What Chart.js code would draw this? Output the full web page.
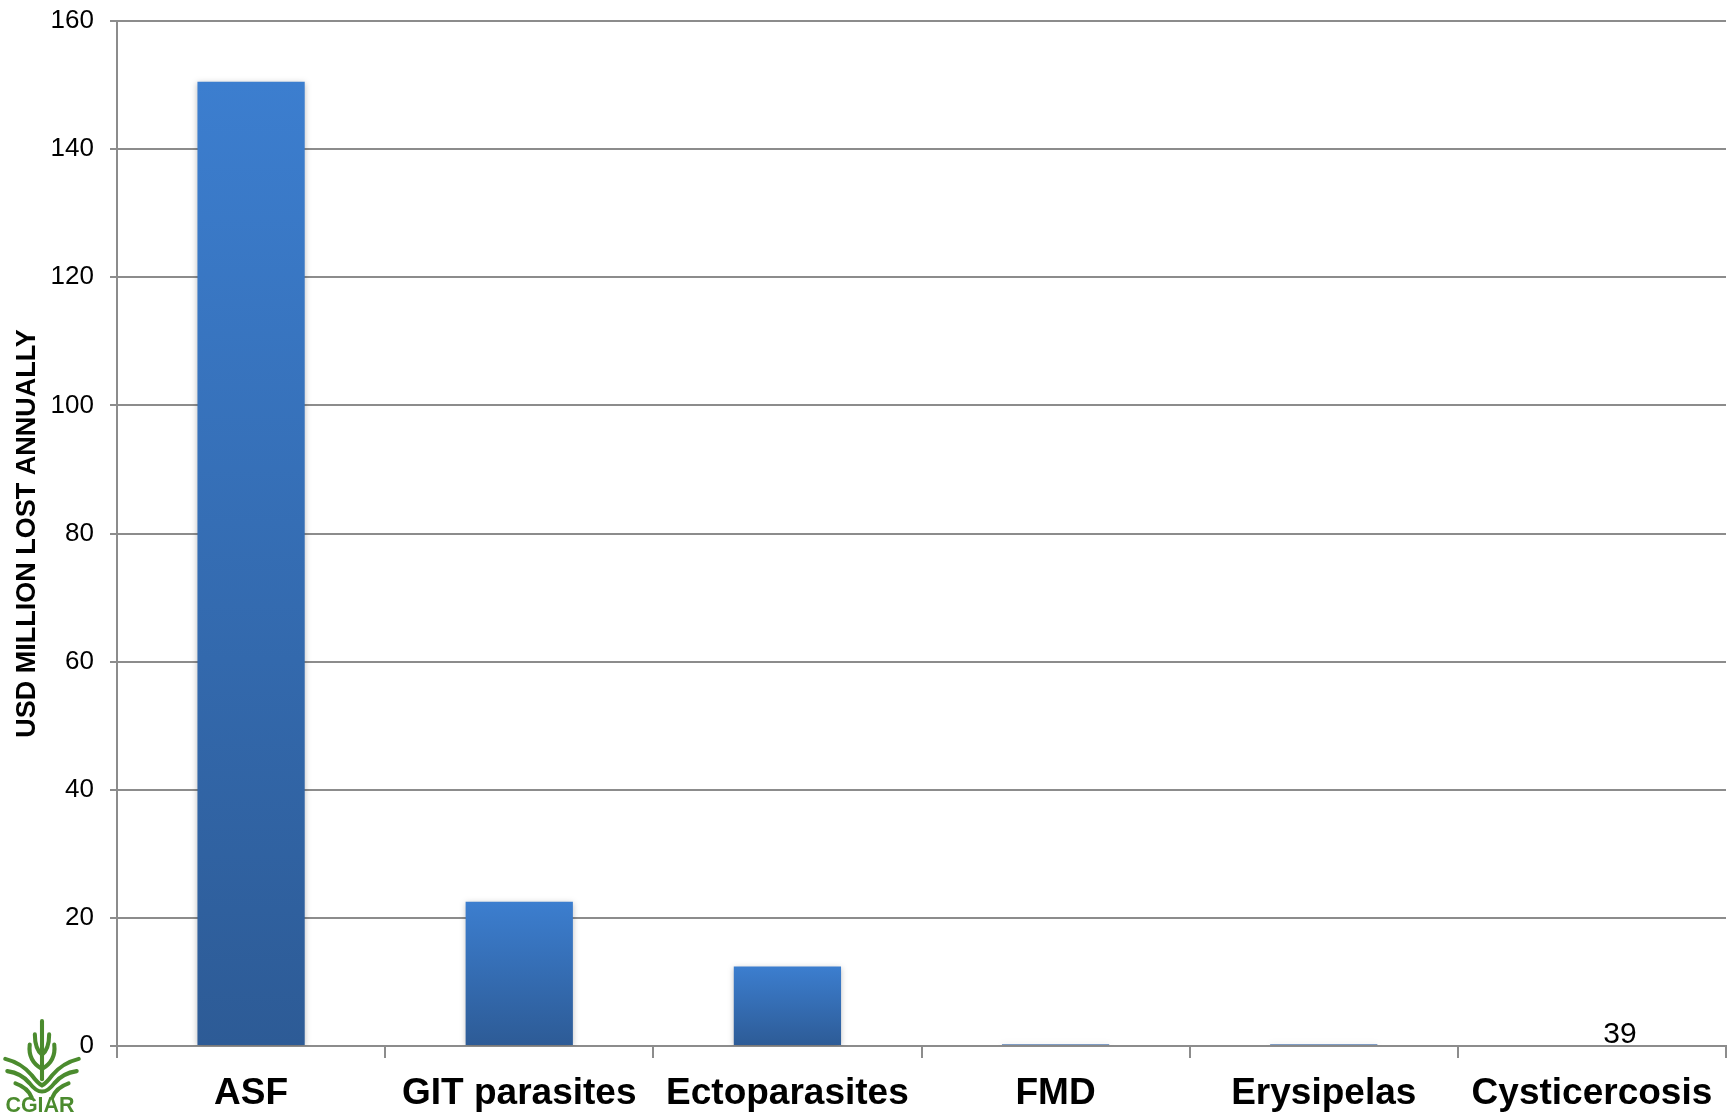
<!DOCTYPE html>
<html>
<head>
<meta charset="utf-8">
<script src="https://cdn.jsdelivr.net/npm/chart.js@4/dist/chart.umd.min.js"></script>
<style>
  html, body { margin: 0; padding: 0; background: #fff; }
  #wrap { position: relative; width: 1728px; height: 1113px; overflow: hidden; }
  canvas { position: absolute; left: 0; top: 0; }
  #page { position: absolute; left: 1580px; top: 1016px; width: 80px; text-align: center;
          font: 30px "Liberation Sans", Arial, sans-serif; color: #000; }
  #logo { position: absolute; left: 0px; top: 1016px; width: 84px; height: 97px; }
</style>
</head>
<body>
<div id="wrap">
  <canvas id="c" width="1728" height="1113"></canvas>
  <div id="page">39</div>
  <svg id="logo" viewBox="0 0 80 95">
    <g fill="none" stroke="#4b8b2e" stroke-width="4" stroke-linecap="round">
      <path d="M40 5 L40 62"/>
      <path d="M33 18 Q33 32 40 38 Q47 32 47 18"/>
      <path d="M28 28 Q26 44 40 52 Q54 44 52 28"/>
      <path d="M4 42 Q20 46 30 58 Q36 66 40 68 Q44 66 50 58 Q60 46 76 42"/>
      <path d="M6 54 Q20 56 28 66 Q34 74 40 74 Q46 74 52 66 Q60 56 74 54"/>
      <path d="M14 66 Q26 70 30 80"/>
      <path d="M66 66 Q54 70 50 80"/>
    </g>
    <text x="38" y="94" text-anchor="middle" font-family="Liberation Sans, Arial" font-weight="bold" font-size="21" fill="#4b8b2e">CGIAR</text>
  </svg>
</div>
<script>
const categories = ["ASF", "GIT parasites", "Ectoparasites", "FMD", "Erysipelas", "Cysticercosis"];
const lossValues = [150.5, 22.5, 12.4, 0.3, 0.3, 0];
const yTicks = [0, 20, 40, 60, 80, 100, 120, 140, 160];
const yTitle = "USD MILLION LOST ANNUALLY";

const barFill = (ctx) => {
  const chart = ctx.chart;
  const y = chart.scales.y;
  if (!y || ctx.raw === undefined) return '#3a78c6';
  const top = y.getPixelForValue(ctx.raw);
  const bottom = y.getPixelForValue(0);
  if (!isFinite(top) || bottom - top < 4) return '#7f9cc4';
  const g = chart.ctx.createLinearGradient(0, top, 0, bottom);
  g.addColorStop(0, '#3c7ecf');
  g.addColorStop(1, '#2d5b96');
  return g;
};

const shadowPlugin = {
  id: 'barShadow',
  beforeDatasetsDraw(chart) {
    const c = chart.ctx;
    c.save();
    c.shadowColor = 'rgba(0,0,0,0.25)';
    c.shadowBlur = 6;
    c.shadowOffsetX = 0;
    c.shadowOffsetY = 1;
  },
  afterDatasetsDraw(chart) { chart.ctx.restore(); }
};

new Chart(document.getElementById('c'), {
  type: 'bar',
  data: {
    labels: categories,
    datasets: [{
      data: lossValues,
      backgroundColor: barFill,
      borderWidth: 0,
      categoryPercentage: 1,
      barPercentage: 0.4
    }]
  },
  plugins: [shadowPlugin],
  options: {
    responsive: false,
    animation: false,
    devicePixelRatio: 1,
    layout: { padding: { left: 0, right: 2, top: 21, bottom: 0 } },
    plugins: { legend: { display: false }, tooltip: { enabled: false } },
    scales: {
      x: {
        offset: true,
        grid: { display: true, drawOnChartArea: false, tickLength: 12, color: '#8c8c8c', lineWidth: 2, offset: true },
        border: { display: true, color: '#8c8c8c', width: 2 },
        ticks: { color: '#000', padding: 14, maxRotation: 0, autoSkip: false,
                 font: { family: '"Liberation Sans", Arial, sans-serif', size: 37, weight: 'bold' } },
        afterFit(scale) { scale.height = 67; scale.paddingLeft = 0; scale.paddingRight = 0; }
      },
      y: {
        min: 0, max: 160,
        afterBuildTicks(scale) { scale.ticks = yTicks.map(v => ({ value: v })); },
        grid: { color: '#8c8c8c', lineWidth: 2, tickLength: 7 },
        border: { display: true, color: '#8c8c8c', width: 2 },
        ticks: { color: '#000', padding: 16,
                 font: { family: '"Liberation Sans", Arial, sans-serif', size: 26 } },
        title: { display: true, text: yTitle, color: '#000', padding: { top: 11, bottom: 0 },
                 font: { family: '"Liberation Sans", Arial, sans-serif', size: 27, weight: 'bold' } },
        afterFit(scale) { scale.width = 117; scale.paddingTop = 0; scale.paddingBottom = 0; }
      }
    }
  }
});
</script>
</body>
</html>
